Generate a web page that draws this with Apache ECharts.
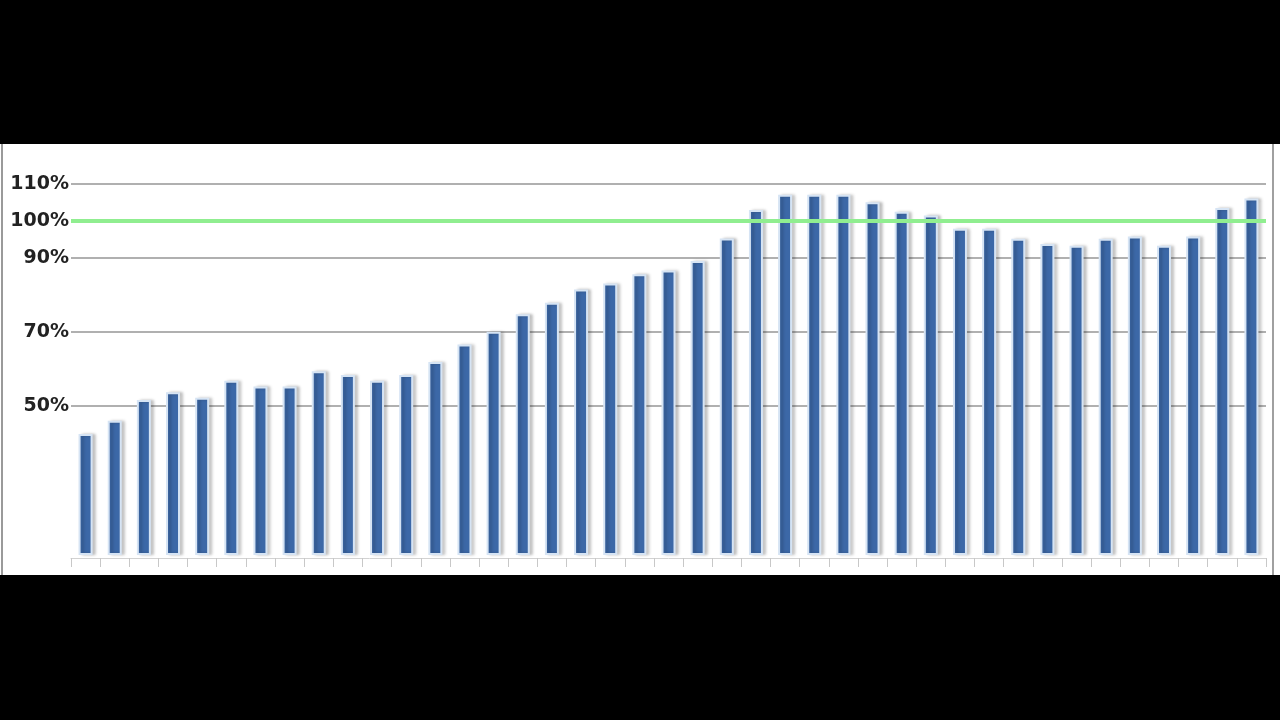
<!DOCTYPE html>
<html>
<head>
<meta charset="utf-8">
<script src="https://cdn.jsdelivr.net/npm/echarts@6/dist/echarts.min.js"></script>
<style>
html,body{margin:0;padding:0;background:#000;}
#chart{width:1280px;height:720px;}
</style>
</head>
<body>
<div id="chart"></div>
<script>
// categories (labels are not legible in the source, so they are numbered)
const categories = ['1','2','3','4','5','6','7','8','9','10','11','12','13','14','15','16','17','18','19','20','21','22','23','24','25','26','27','28','29','30','31','32','33','34','35','36','37','38','39','40','41'];
// bar values in %
const values = [42.4, 46.0, 51.6, 53.7, 52.2, 56.8, 55.3, 55.3, 59.4, 58.4, 56.8, 58.4, 61.9, 66.6, 70.1, 74.8, 77.9, 81.5, 83.1, 85.6, 86.6, 89.2, 95.3, 103.0, 107.1, 107.1, 107.1, 105.1, 102.5, 101.5, 97.9, 97.9, 95.2, 93.8, 93.3, 95.2, 95.8, 93.3, 95.8, 103.5, 106.1];
// labelled y ticks
const yTickLabels = [110, 100, 90, 70, 50];
// target line
const targetValue = 100;

const yMin = 10, yMax = 110, yStep = 10;
const splitColors = [];
for (let v = yMin; v <= yMax; v += yStep) {
  splitColors.push(yTickLabels.includes(v) && v !== targetValue ? '#b0b0b0' : 'rgba(0,0,0,0)');
}

const chart = echarts.init(document.getElementById('chart'));
chart.setOption({
  backgroundColor: '#000',
  animation: false,
  graphic: [
    { type: 'rect', z: -10, shape: { x: 0, y: 144, width: 1280, height: 431 }, style: { fill: '#ffffff' } },
    { type: 'line', z: -9, shape: { x1: 2, y1: 144, x2: 2, y2: 575 }, style: { stroke: '#9a9a9a', lineWidth: 2 } },
    { type: 'line', z: -9, shape: { x1: 1273, y1: 144, x2: 1273, y2: 575 }, style: { stroke: '#a0a0a0', lineWidth: 2 } }
  ],
  grid: { left: 71, right: 14, top: 184, bottom: 166, containLabel: false },
  xAxis: {
    type: 'category',
    data: categories,
    offset: 4,
    axisLine: { lineStyle: { color: '#d2d2d2', width: 1 } },
    axisTick: { show: true, length: 9, alignWithLabel: false, lineStyle: { color: '#c8c8c8' } },
    axisLabel: { show: false },
    splitLine: { show: false }
  },
  yAxis: {
    type: 'value',
    min: yMin,
    max: yMax,
    interval: yStep,
    axisLine: { show: false },
    axisTick: { show: false },
    splitLine: { show: true, lineStyle: { color: splitColors, width: 2 } },
    axisLabel: {
      margin: 2,
      fontFamily: 'DejaVu Sans',
      fontWeight: 'bold',
      fontSize: 19,
      color: '#222222',
      formatter: function (v) { return yTickLabels.includes(v) ? v + '%' : ''; }
    }
  },
  series: [{
    type: 'bar',
    data: values,
    barWidth: 14,
    itemStyle: {
      color: '#3c68a7',
      borderColor: '#d6e4f4',
      borderWidth: 2,
      shadowColor: 'rgba(0,0,0,0.22)',
      shadowBlur: 3,
      shadowOffsetX: 3,
      shadowOffsetY: 0
    },
    markLine: {
      silent: true,
      symbol: 'none',
      label: { show: false },
      lineStyle: { color: '#90ee90', width: 4, type: 'solid' },
      data: [{ yAxis: targetValue }]
    }
  }]
});
</script>
</body>
</html>
